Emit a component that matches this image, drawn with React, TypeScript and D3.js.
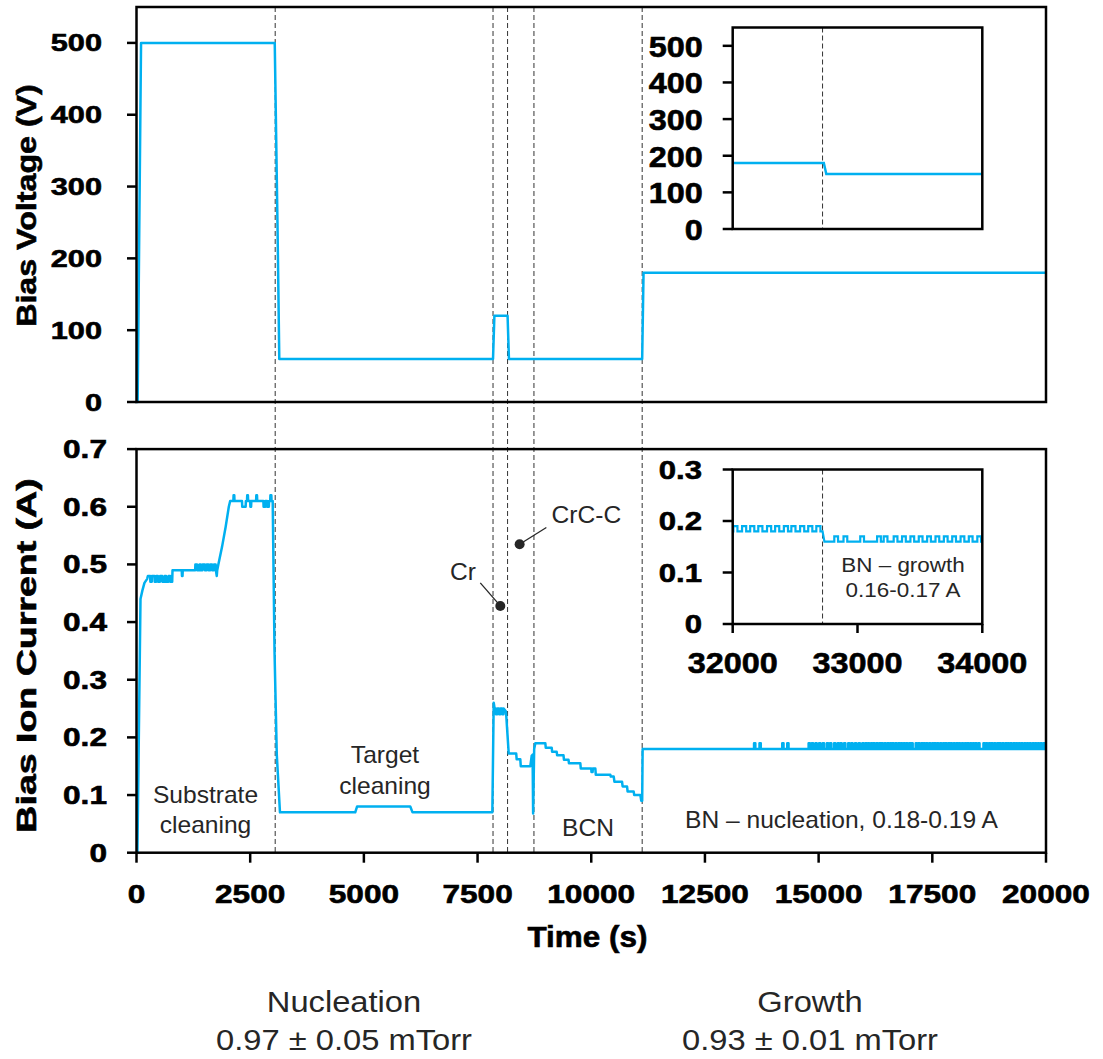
import React from 'react';
import * as d3 from 'd3';

const FONT = "'Liberation Sans', Arial, Helvetica, sans-serif";
const TRACE = '#00B0F0';
const INK = '#262626';

// ---- axis ticks ----
const timeTicks = [0, 2500, 5000, 7500, 10000, 12500, 15000, 17500, 20000];
const voltageTicks = [0, 100, 200, 300, 400, 500];
const currentTicks = [0, 0.1, 0.2, 0.3, 0.4, 0.5, 0.6, 0.7];
const insetTimeTicks = [32000, 33000, 34000];
const insetVoltageTicks = [0, 100, 200, 300, 400, 500];
const insetCurrentTicks = [0, 0.1, 0.2, 0.3];

// ---- process stage boundaries (s) ----
const stageBoundaries = [3050, 7840, 8160, 8740, 11120];
const growthBoundary = 32720;

// ---- bias voltage (s, V) ----
const biasVoltage: [number, number][] = [
  [0, 0], [25, 0], [100, 500], [3040, 500], [3100, 250], [3140, 60],
  [7840, 60], [7870, 120], [8160, 120], [8190, 60], [11120, 60],
  [11150, 180], [20000, 180],
];
const insetVoltage: [number, number][] = [
  [32000, 180], [32730, 180], [32750, 150], [34000, 150],
];

// ---- bias ion current (s, A): cleaning, Cr, CrC-C and BCN stages ----
const biasCurrent: [number, number][] = [
  [0, 0], [20, 0], [88, 0.44], [130, 0.455], [175, 0.468], [235, 0.475],
  [250, 0.48], [300, 0.48], [305, 0.47], [335, 0.47], [340, 0.48], [395, 0.48], [400, 0.47],
  [430, 0.47], [435, 0.48], [470, 0.48], [475, 0.47], [515, 0.47], [520, 0.48], [565, 0.48],
  [570, 0.47], [615, 0.47], [620, 0.48], [650, 0.48], [655, 0.47], [700, 0.47], [705, 0.48],
  [740, 0.48], [745, 0.47], [785, 0.47], [792, 0.49],
  [995, 0.49], [1000, 0.48], [1012, 0.48], [1017, 0.49],
  [1290, 0.49], [1295, 0.5], [1330, 0.5], [1335, 0.49], [1380, 0.49], [1385, 0.5], [1410, 0.5],
  [1415, 0.49], [1450, 0.49], [1455, 0.5], [1500, 0.5], [1505, 0.49], [1540, 0.49], [1545, 0.5],
  [1580, 0.5], [1585, 0.49], [1620, 0.49], [1625, 0.5], [1660, 0.5], [1665, 0.49], [1700, 0.49],
  [1705, 0.5], [1740, 0.5], [1745, 0.49], [1765, 0.48], [1775, 0.49],
  [1800, 0.5], [1880, 0.53], [1960, 0.565], [2030, 0.6], [2060, 0.61],
  [2130, 0.61], [2135, 0.62], [2150, 0.62], [2155, 0.61], [2320, 0.61], [2325, 0.6], [2400, 0.6],
  [2405, 0.61], [2430, 0.61], [2435, 0.62], [2450, 0.62], [2455, 0.61], [2500, 0.61], [2505, 0.6],
  [2520, 0.6], [2525, 0.61], [2630, 0.61], [2635, 0.62], [2650, 0.62], [2655, 0.61], [2790, 0.61],
  [2795, 0.6], [2830, 0.6], [2835, 0.61], [2870, 0.61], [2875, 0.6], [2910, 0.6], [2915, 0.61],
  [2940, 0.61], [2945, 0.62], [2965, 0.62], [2970, 0.61], [2995, 0.61],
  [3035, 0.35], [3085, 0.17], [3155, 0.07],
  [4810, 0.07], [4850, 0.08], [6020, 0.08], [6070, 0.07], [7825, 0.07],
  [7855, 0.26], [7875, 0.25], [7900, 0.25], [7905, 0.24], [7930, 0.24], [7935, 0.25], [7970, 0.25],
  [7975, 0.24], [8000, 0.24], [8005, 0.25], [8040, 0.25], [8045, 0.24], [8070, 0.24], [8075, 0.25],
  [8125, 0.245],
  [8185, 0.172], [8350, 0.172], [8360, 0.162], [8440, 0.162], [8450, 0.15], [8660, 0.15],
  [8690, 0.168], [8710, 0.17], [8722, 0.068], [8745, 0.18], [8770, 0.19],
  [8990, 0.19], [9000, 0.182], [9130, 0.182], [9140, 0.175], [9240, 0.175], [9250, 0.169],
  [9390, 0.169], [9400, 0.161], [9500, 0.161], [9510, 0.155], [9760, 0.155], [9770, 0.146],
  [10000, 0.146], [10005, 0.14], [10030, 0.14], [10035, 0.146], [10090, 0.146], [10100, 0.135],
  [10420, 0.135], [10430, 0.132], [10494, 0.132], [10510, 0.123], [10677, 0.123], [10690, 0.115],
  [10787, 0.115], [10800, 0.106], [10933, 0.106], [10945, 0.1], [11080, 0.1], [11100, 0.09],
  [11120, 0.09], [11130, 0.18],
];

// BN nucleation: 0.18 A baseline with brief excursions to 0.19 A (start times, s)
const nucleationBase = 0.18;
const nucleationPeak = 0.19;
const nucleationSpikes = [
  13580, 13700, 14200, 14310, 14780, 14850, 14930, 15010, 15090, 15180, 15250, 15340, 15420,
  15480, 15560, 15650, 15720, 15800, 15880, 15960, 16030, 16085, 16150, 16205, 16270, 16330,
  16385, 16450, 16515, 16570, 16625, 16690, 16755, 16810, 16870, 16925, 16990, 17040, 17135,
  17190, 17255, 17310, 17365, 17430, 17495, 17550, 17605, 17670, 17735, 17790, 17850, 17905,
  17970, 18030, 18085, 18150, 18215, 18270, 18330, 18390, 18445, 18510, 18625, 18680, 18745,
  18800, 18860, 18925, 18980, 19040, 19105, 19160, 19220, 19285, 19340, 19400, 19455, 19520,
  19580, 19640, 19705, 19760, 19820, 19880, 19945,
];

// BN growth window (inset): 0.18-0.19 A before the change, 0.16-0.17 A after
const growthBefore = { base: 0.18, peak: 0.19 };
const growthBeforeSpikes = [32005, 32075, 32140, 32205, 32275, 32340, 32410, 32470, 32540, 32605, 32670];
const growthAfter = { base: 0.16, peak: 0.17 };
const growthAfterSpikes = [
  32814, 32888, 33022, 33157, 33210, 33290, 33357, 33424, 33491, 33558, 33625, 33692, 33759,
  33826, 33892, 33960,
];

// stage callouts
const calloutDots = [
  { label: 'Cr', t: 8000, v: 0.428, lt: 7560, lv: 0.468, tx: 450, ty: 580 },
  { label: 'CrC-C', t: 8425, v: 0.535, lt: 9013, lv: 0.564, tx: 551.5, ty: 523 },
];

function spiky(
  base: number, peak: number, start: number, end: number, spikes: number[], width: number,
): [number, number][] {
  const pts: [number, number][] = [[start, base]];
  spikes.forEach((s) => {
    pts.push([s, base], [s, peak], [s + width, peak], [s + width, base]);
  });
  pts.push([end, base]);
  return pts;
}

type TxtProps = {
  x: number; y: number; sx?: number; rotate?: number; anchor?: string; size: number;
  weight?: string | number; fill?: string; children: React.ReactNode;
};
function Txt({ x, y, sx = 1, rotate = 0, anchor = 'middle', size, weight = 'normal', fill = '#000', children }: TxtProps) {
  const bold = weight === 'bold';
  return (
    <text
      transform={`translate(${x},${y}) rotate(${rotate}) scale(${sx},1)`}
      textAnchor={anchor as any}
      fontFamily={FONT}
      fontSize={size}
      fontWeight={weight as any}
      fill={fill}
      stroke={bold ? fill : 'none'}
      strokeWidth={bold ? 0.6 : 0}
    >
      {children}
    </text>
  );
}

export default function App() {
  const x = d3.scaleLinear().domain([0, 20000]).range([136.5, 1046]);
  const yV = d3.scaleLinear().domain([0, 550]).range([402, 7]);
  const yI = d3.scaleLinear().domain([0, 0.7]).range([852.7, 449.1]);

  const xi = d3.scaleLinear().domain([32000, 34000]).range([732.7, 982.3]);
  const yVi = d3.scaleLinear().domain([0, 550]).range([229, 27.5]);
  const yIi = d3.scaleLinear().domain([0, 0.3]).range([624, 469.5]);

  const lineMain = (ys: d3.ScaleLinear<number, number>) =>
    d3.line<[number, number]>().x((d) => x(d[0])).y((d) => ys(d[1]));
  const lineInset = (ys: d3.ScaleLinear<number, number>) =>
    d3.line<[number, number]>().x((d) => xi(d[0])).y((d) => ys(d[1]));

  const currentAll: [number, number][] = [
    ...biasCurrent,
    ...spiky(nucleationBase, nucleationPeak, 11130, 20000, nucleationSpikes, 28),
  ];
  const insetCurrent: [number, number][] = [
    ...spiky(growthBefore.base, growthBefore.peak, 32000, growthBoundary, growthBeforeSpikes, 33),
    ...spiky(growthAfter.base, growthAfter.peak, growthBoundary + 15, 34000, growthAfterSpikes, 30),
  ];

  const axisW = 2.5;

  return (
    <div style={{ position: 'absolute', left: 0, top: 0 }}>
      <svg width={1103} height={1059} viewBox="0 0 1103 1059" style={{ display: 'block', background: '#fff' }}>
        <rect x={0} y={0} width={1103} height={1059} fill="#fff" />

        {/* stage boundaries across both panels */}
        {stageBoundaries.map((t) => (
          <line key={t} x1={x(t)} x2={x(t)} y1={yV.range()[1]} y2={yI(0)}
            stroke="#333" strokeWidth={1} strokeDasharray="5,3" />
        ))}

        {/* ---- top panel: bias voltage ---- */}
        <path d={lineMain(yV)(biasVoltage) || ''} fill="none" stroke={TRACE} strokeWidth={2.5} strokeLinejoin="round" />
        <rect x={x(0)} y={yV(550)} width={x(20000) - x(0)} height={yV(0) - yV(550)}
          fill="none" stroke="#000" strokeWidth={axisW} />
        {voltageTicks.map((v) => (
          <g key={v}>
            <line x1={x(0) - 9.5} x2={x(0)} y1={yV(v)} y2={yV(v)} stroke="#000" strokeWidth={axisW} />
            <Txt x={102} y={yV(v) + 8.5} anchor="end" size={24} weight="bold" sx={1.28}>{v}</Txt>
          </g>
        ))}
        <Txt x={36} y={205.5} rotate={-90} size={28} weight="bold" sx={1.15}>Bias Voltage (V)</Txt>

        {/* top inset */}
        <rect x={xi(32000)} y={yVi(550)} width={xi(34000) - xi(32000)} height={yVi(0) - yVi(550)} fill="#fff" />
        <line x1={xi(growthBoundary)} x2={xi(growthBoundary)} y1={yVi(550)} y2={yVi(0)}
          stroke="#333" strokeWidth={1} strokeDasharray="5,3" />
        <path d={lineInset(yVi)(insetVoltage) || ''} fill="none" stroke={TRACE} strokeWidth={2.5} />
        <rect x={xi(32000)} y={yVi(550)} width={xi(34000) - xi(32000)} height={yVi(0) - yVi(550)}
          fill="none" stroke="#000" strokeWidth={axisW} />
        {insetVoltageTicks.map((v) => (
          <g key={v}>
            <line x1={xi(32000) - 10} x2={xi(32000)} y1={yVi(v)} y2={yVi(v)} stroke="#000" strokeWidth={axisW} />
            <Txt x={702.7} y={yVi(v) + 10.8} anchor="end" size={30} weight="bold" sx={1.08}>{v}</Txt>
          </g>
        ))}

        {/* ---- bottom panel: bias ion current ---- */}
        <path d={lineMain(yI)(currentAll) || ''} fill="none" stroke={TRACE} strokeWidth={2.5} strokeLinejoin="round" />
        <rect x={x(0)} y={yI(0.7)} width={x(20000) - x(0)} height={yI(0) - yI(0.7)}
          fill="none" stroke="#000" strokeWidth={axisW} />
        {currentTicks.map((v) => (
          <g key={v}>
            <line x1={x(0) - 9.5} x2={x(0)} y1={yI(v)} y2={yI(v)} stroke="#000" strokeWidth={axisW} />
            <Txt x={107} y={yI(v) + 9} anchor="end" size={25.5} weight="bold" sx={1.24}>{v === 0 ? '0' : d3.format('.1f')(v)}</Txt>
          </g>
        ))}
        {timeTicks.map((t) => (
          <g key={t}>
            <line x1={x(t)} x2={x(t)} y1={yI(0)} y2={yI(0) + 10} stroke="#000" strokeWidth={axisW} />
            <Txt x={x(t)} y={903} size={25.5} weight="bold" sx={1.24}>{t}</Txt>
          </g>
        ))}
        <Txt x={587.5} y={946.7} size={30} weight="bold" sx={1.05}>Time (s)</Txt>
        <Txt x={36} y={655.5} rotate={-90} size={28} weight="bold" sx={1.34}>Bias Ion Current (A)</Txt>

        {/* stage annotations */}
        <Txt x={205.5} y={803} size={23} sx={1.07} fill={INK}>Substrate</Txt>
        <Txt x={205.5} y={833} size={23} sx={1.07} fill={INK}>cleaning</Txt>
        <Txt x={385} y={763} size={23} sx={1.07} fill={INK}>Target</Txt>
        <Txt x={385} y={794} size={23} sx={1.07} fill={INK}>cleaning</Txt>
        <Txt x={588} y={836} size={23} sx={1.07} fill={INK}>BCN</Txt>
        <Txt x={685} y={828} anchor="start" size={23} sx={1.07} fill={INK}>BN – nucleation, 0.18-0.19 A</Txt>
        {calloutDots.map((c) => (
          <g key={c.label}>
            <line x1={x(c.lt)} y1={yI(c.lv)} x2={x(c.t)} y2={yI(c.v)} stroke={INK} strokeWidth={1.3} />
            <circle cx={x(c.t)} cy={yI(c.v)} r={5} fill={INK} />
            <Txt x={c.tx} y={c.ty} anchor="start" size={23} sx={1.07} fill={INK}>{c.label}</Txt>
          </g>
        ))}

        {/* bottom inset */}
        <rect x={xi(32000)} y={yIi(0.3)} width={xi(34000) - xi(32000)} height={yIi(0) - yIi(0.3)} fill="#fff" />
        <line x1={xi(growthBoundary)} x2={xi(growthBoundary)} y1={yIi(0.3)} y2={yIi(0)}
          stroke="#333" strokeWidth={1} strokeDasharray="5,3" />
        <path d={lineInset(yIi)(insetCurrent) || ''} fill="none" stroke={TRACE} strokeWidth={2.2} />
        <rect x={xi(32000)} y={yIi(0.3)} width={xi(34000) - xi(32000)} height={yIi(0) - yIi(0.3)}
          fill="none" stroke="#000" strokeWidth={axisW} />
        {insetCurrentTicks.map((v) => (
          <g key={v}>
            <line x1={xi(32000) - 10} x2={xi(32000)} y1={yIi(v)} y2={yIi(v)} stroke="#000" strokeWidth={axisW} />
            <Txt x={702} y={yIi(v) + 9} anchor="end" size={25.5} weight="bold" sx={1.22}>{v === 0 ? '0' : d3.format('.1f')(v)}</Txt>
          </g>
        ))}
        {insetTimeTicks.map((t) => (
          <g key={t}>
            <line x1={xi(t)} x2={xi(t)} y1={yIi(0)} y2={yIi(0) + 9} stroke="#000" strokeWidth={axisW} />
            <Txt x={xi(t)} y={673} size={30} weight="bold" sx={1.08}>{t}</Txt>
          </g>
        ))}
        <Txt x={903} y={571.7} size={21} sx={1.07} fill={INK}>BN – growth</Txt>
        <Txt x={903} y={596.7} size={21} sx={1.07} fill={INK}>0.16-0.17 A</Txt>

        {/* deposition pressure notes */}
        <Txt x={344} y={1011.7} size={30} sx={1.09} fill={INK}>Nucleation</Txt>
        <Txt x={344} y={1050} size={30} sx={1.09} fill={INK}>0.97 ± 0.05 mTorr</Txt>
        <Txt x={810} y={1011.7} size={30} sx={1.09} fill={INK}>Growth</Txt>
        <Txt x={810} y={1050} size={30} sx={1.09} fill={INK}>0.93 ± 0.01 mTorr</Txt>
      </svg>
    </div>
  );
}
